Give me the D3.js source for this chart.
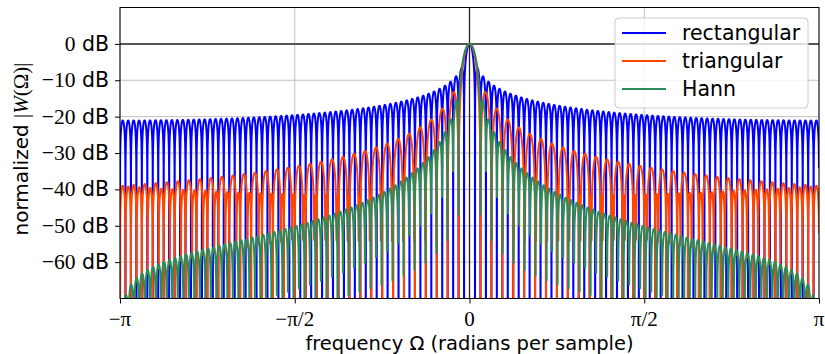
<!DOCTYPE html>
<html>
<head>
<meta charset="utf-8">
<script src="https://cdn.jsdelivr.net/npm/d3@7.9.0/dist/d3.min.js"></script>
<style>
  body { margin: 0; background: #fff; }
  svg { display: block; }
  text { font-family: "DejaVu Sans", sans-serif; fill: #000; }
  .math { font-family: "Liberation Serif", "DejaVu Serif", serif; }
</style>
</head>
<body>
<div id="chart"></div>
<script>
// window settings (length N, zero-padded DFT length)
const windowLength = 128;
const dftLength = 8192;
const seriesNames = ["rectangular", "triangular", "Hann"];
const seriesColors = ["blue", "orangered", "seagreen"];

// axis ticks
const yTicks = [0, -10, -20, -30, -40, -50, -60];
const yTickLabels = ["0", "\u221210", "\u221220", "\u221230", "\u221240", "\u221250", "\u221260"];
const xTicks = [-Math.PI, -Math.PI / 2, 0, Math.PI / 2, Math.PI];
const xTickLabels = ["\u2212\u03c0", "\u2212\u03c0/2", "0", "\u03c0/2", "\u03c0"];
const yDomain = [-70, 10];

// symmetric window samples (like numpy ones / bartlett / hanning)
function windowSamples(name) {
    const N = windowLength;
    const w = [];
    for (let n = 0; n < N; n++) {
        if (name === "rectangular") w.push(1);
        else if (name === "triangular") w.push(1 - Math.abs(2 * n / (N - 1) - 1));
        else w.push(0.5 - 0.5 * Math.cos(2 * Math.PI * n / (N - 1)));
    }
    return w;
}

// zero-padded DFT, shifted, normalized, in dB
function spectrum(w) {
    const M = dftLength;
    const cosT = new Float64Array(M), sinT = new Float64Array(M);
    for (let i = 0; i < M; i++) {
        cosT[i] = Math.cos(2 * Math.PI * i / M);
        sinT[i] = Math.sin(2 * Math.PI * i / M);
    }
    const mag = new Float64Array(M);
    for (let k = 0; k < M; k++) {
        let re = 0, im = 0;
        for (let n = 0; n < w.length; n++) {
            const idx = (k * n) % M;
            re += w[n] * cosT[idx];
            im -= w[n] * sinT[idx];
        }
        mag[k] = Math.hypot(re, im);
    }
    const peak = d3.max(mag);
    const out = [];
    for (let i = 0; i < M; i++) {
        const k = (i + M / 2) % M;
        const om = -Math.PI + 2 * Math.PI * i / (M - 1);
        out.push({ om, db: 10 * Math.log10(mag[k] / peak + 1e-300) });
    }
    return out;
}

function renderChart() {
    const width = 825, height = 354;
    const area = { left: 120, right: 819, top: 7.5, bottom: 298.5 };

    const svg = d3.select("#chart").append("svg")
        .attr("width", width).attr("height", height);

    const xScale = d3.scaleLinear().domain([-Math.PI, Math.PI]).range([area.left, area.right]);
    const yScale = d3.scaleLinear().domain(yDomain).range([area.bottom, area.top]);

    svg.append("defs").append("clipPath").attr("id", "clip")
        .append("rect")
        .attr("x", area.left).attr("y", area.top)
        .attr("width", area.right - area.left).attr("height", area.bottom - area.top);

    // gridlines
    const grid = svg.append("g").attr("stroke", "#b0b0b0").attr("stroke-width", 0.8);
    grid.selectAll(".gx").data(xTicks).join("line")
        .attr("x1", d => xScale(d)).attr("x2", d => xScale(d))
        .attr("y1", area.top).attr("y2", area.bottom);
    grid.selectAll(".gy").data(yTicks).join("line")
        .attr("x1", area.left).attr("x2", area.right)
        .attr("y1", d => yScale(d)).attr("y2", d => yScale(d));

    // zero lines
    svg.append("line")
        .attr("x1", area.left).attr("x2", area.right)
        .attr("y1", yScale(0)).attr("y2", yScale(0))
        .attr("stroke", "#555").attr("stroke-width", 2);
    svg.append("line")
        .attr("x1", xScale(0)).attr("x2", xScale(0))
        .attr("y1", area.top).attr("y2", area.bottom)
        .attr("stroke", "#222").attr("stroke-width", 1.3);

    // curves
    const line = d3.line()
        .x(d => xScale(d.om))
        .y(d => yScale(Math.max(d.db, -200)));
    const curves = svg.append("g").attr("clip-path", "url(#clip)");
    seriesNames.forEach((name, i) => {
        const data = spectrum(windowSamples(name));
        curves.append("path")
            .datum(data)
            .attr("d", line)
            .attr("fill", "none")
            .attr("stroke", seriesColors[i])
            .attr("stroke-width", 2)
            .attr("stroke-linejoin", "round");
    });

    // frame
    svg.append("rect")
        .attr("x", area.left).attr("y", area.top)
        .attr("width", area.right - area.left).attr("height", area.bottom - area.top)
        .attr("fill", "none").attr("stroke", "#000").attr("stroke-width", 1);

    // axes
    const xAxis = d3.axisBottom(xScale).tickValues(xTicks).tickSize(5).tickFormat("");
    const yAxis = d3.axisLeft(yScale).tickValues(yTicks).tickSize(5).tickFormat("");
    svg.append("g").attr("transform", `translate(0,${area.bottom})`).call(xAxis)
        .call(g => g.select(".domain").remove());
    svg.append("g").attr("transform", `translate(${area.left},0)`).call(yAxis)
        .call(g => g.select(".domain").remove());

    svg.selectAll(".xlab").data(xTicks).join("text")
        .attr("class", "math")
        .attr("x", d => xScale(d)).attr("y", area.bottom + 27)
        .attr("text-anchor", "middle")
        .attr("font-size", 21)
        .text((d, i) => xTickLabels[i]);

    const ylab = svg.selectAll(".ylab").data(yTicks).join("text")
        .attr("x", area.left - 11).attr("y", d => yScale(d) + 7)
        .attr("text-anchor", "end")
        .attr("font-size", 20.5);
    ylab.append("tspan").attr("class", "math").attr("font-size", 21.5).text((d, i) => yTickLabels[i]);
    ylab.append("tspan").text(" dB");

    // axis titles
    svg.append("text")
        .attr("x", (area.left + area.right) / 2).attr("y", 350)
        .attr("text-anchor", "middle").attr("font-size", 19.5)
        .text("frequency \u03a9 (radians per sample)");

    const yt = svg.append("text")
        .attr("transform", `translate(28,${(area.top + area.bottom) / 2 - 4}) rotate(-90)`)
        .attr("text-anchor", "middle").attr("font-size", 20);
    yt.append("tspan").text("normalized ");
    yt.append("tspan").attr("class", "math").attr("font-size", 21).text("|");
    yt.append("tspan").attr("class", "math").attr("font-size", 21).attr("font-style", "italic").text("W");
    yt.append("tspan").attr("class", "math").attr("font-size", 21).text("(\u03a9)|");

    // legend
    const legend = svg.append("g");
    legend.append("rect")
        .attr("x", 615).attr("y", 18).attr("width", 193).attr("height", 90)
        .attr("rx", 4)
        .attr("fill", "#fff").attr("fill-opacity", 0.8)
        .attr("stroke", "#ccc").attr("stroke-width", 1);
    seriesNames.forEach((name, i) => {
        const y = 33 + i * 28;
        legend.append("line")
            .attr("x1", 622).attr("x2", 666).attr("y1", y).attr("y2", y)
            .attr("stroke", seriesColors[i]).attr("stroke-width", 2);
        legend.append("text")
            .attr("x", 682).attr("y", y + 7)
            .attr("font-size", 20.5)
            .text(name);
    });
}

renderChart();
</script>
</body>
</html>
